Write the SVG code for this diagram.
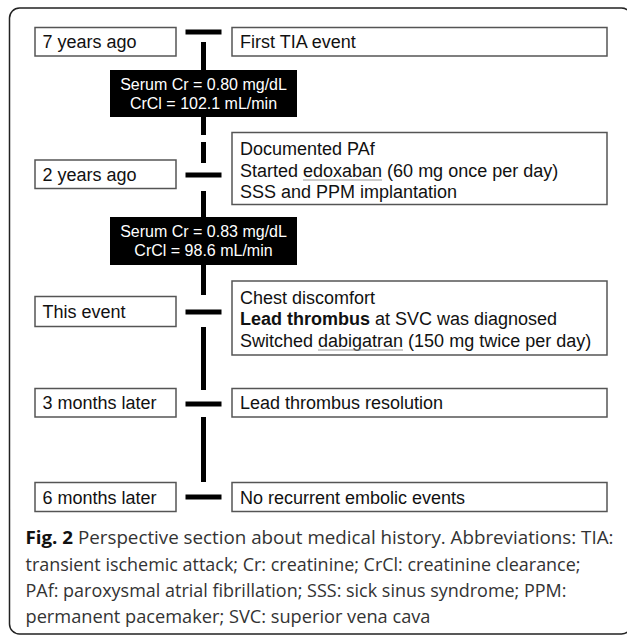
<svg xmlns="http://www.w3.org/2000/svg" width="627" height="637" viewBox="0 0 627 637">
<style>
.box{fill:#fff;stroke:#555;stroke-width:1.5}
.lab{font-family:"Liberation Sans",Arial,sans-serif;font-size:18px;fill:#111}
.blk{fill:#000}
.wt{font-family:"Liberation Sans",Arial,sans-serif;font-size:16px;fill:#fff;text-anchor:middle}
.seg{stroke:#000;stroke-width:5}
.ul{stroke:#999;stroke-width:1.2}
.cap{font-family:"Open Sans","DejaVu Sans",sans-serif;font-size:18.5px;fill:#333}
</style>
<rect width="627" height="637" fill="#fff"/>
<rect x="9.5" y="8" width="622" height="626" rx="10" fill="none" stroke="#222" stroke-width="1.5"/>

<g id="connectors">
  <line class="seg" x1="185.5" y1="32" x2="221.5" y2="32"/>
  <line class="seg" x1="203.5" y1="42" x2="203.5" y2="70"/>
  <line class="seg" x1="203.5" y1="117" x2="203.5" y2="135"/>
  <line class="seg" x1="203.5" y1="142" x2="203.5" y2="163"/>
  <line class="seg" x1="185.5" y1="175" x2="221.5" y2="175"/>
  <line class="seg" x1="203.5" y1="191" x2="203.5" y2="217"/>
  <line class="seg" x1="203.5" y1="265" x2="203.5" y2="295"/>
  <line class="seg" x1="185.5" y1="312" x2="221.5" y2="312"/>
  <line class="seg" x1="203.5" y1="327" x2="203.5" y2="390"/>
  <line class="seg" x1="185.5" y1="404" x2="221.5" y2="404"/>
  <line class="seg" x1="203.5" y1="417" x2="203.5" y2="482"/>
  <line class="seg" x1="185.5" y1="497" x2="221.5" y2="497"/>
</g>

<g id="t7y">
  <rect class="box" x="35" y="27.5" width="141" height="28.5"/>
  <text class="lab" x="42.5" y="48">7 years ago</text>
</g>
<g id="e7y">
  <rect class="box" x="232" y="27.5" width="375" height="28.5"/>
  <text class="lab" x="240" y="48">First TIA event</text>
</g>
<g id="lab1">
  <rect class="blk" x="110" y="70" width="187" height="47"/>
  <text class="wt" x="203.5" y="89.5">Serum Cr = 0.80 mg/dL</text>
  <text class="wt" x="203.5" y="108.5">CrCl = 102.1 mL/min</text>
</g>
<g id="t2y">
  <rect class="box" x="35" y="160" width="141" height="28.5"/>
  <text class="lab" x="42.5" y="180.5">2 years ago</text>
</g>
<g id="e2y">
  <rect class="box" x="232" y="132.5" width="375" height="72"/>
  <text class="lab" x="240" y="155">Documented PAf</text>
  <text class="lab" x="240" y="176.5">Started edoxaban (60 mg once per day)</text>
  <line class="ul" x1="303" y1="180" x2="382" y2="180"/>
  <text class="lab" x="240" y="198">SSS and PPM implantation</text>
</g>
<g id="lab2">
  <rect class="blk" x="110" y="217" width="187" height="48"/>
  <text class="wt" x="203.5" y="237">Serum Cr = 0.83 mg/dL</text>
  <text class="wt" x="203.5" y="256">CrCl = 98.6 mL/min</text>
</g>
<g id="tnow">
  <rect class="box" x="35" y="296.5" width="141" height="30"/>
  <text class="lab" x="42.5" y="318">This event</text>
</g>
<g id="enow">
  <rect class="box" x="232" y="281" width="375" height="74"/>
  <text class="lab" x="240" y="303.5">Chest discomfort</text>
  <text class="lab" x="240" y="325"><tspan font-weight="bold">Lead thrombus</tspan> at SVC was diagnosed</text>
  <text class="lab" x="240" y="346.5">Switched dabigatran (150 mg twice per day)</text>
  <line class="ul" x1="318" y1="350" x2="403" y2="350"/>
</g>
<g id="t3m">
  <rect class="box" x="35" y="388.5" width="141" height="28.5"/>
  <text class="lab" x="42.5" y="409">3 months later</text>
</g>
<g id="e3m">
  <rect class="box" x="232" y="388.5" width="375" height="28.5"/>
  <text class="lab" x="240" y="409">Lead thrombus resolution</text>
</g>
<g id="t6m">
  <rect class="box" x="35" y="482.5" width="141" height="29"/>
  <text class="lab" x="42.5" y="503.5">6 months later</text>
</g>
<g id="e6m">
  <rect class="box" x="232" y="482.5" width="375" height="29"/>
  <text class="lab" x="240" y="503.5">No recurrent embolic events</text>
</g>

<g id="caption">
  <text class="cap" x="25.5" y="544" textLength="588" lengthAdjust="spacingAndGlyphs"><tspan font-weight="bold" fill="#111">Fig. 2</tspan> Perspective section about medical history. Abbreviations: TIA:</text>
  <text class="cap" x="25.5" y="570.5" textLength="555" lengthAdjust="spacingAndGlyphs">transient ischemic attack; Cr: creatinine; CrCl: creatinine clearance;</text>
  <text class="cap" x="25.5" y="597" textLength="541" lengthAdjust="spacingAndGlyphs">PAf: paroxysmal atrial fibrillation; SSS: sick sinus syndrome; PPM:</text>
  <text class="cap" x="25.5" y="623" textLength="405" lengthAdjust="spacingAndGlyphs">permanent pacemaker; SVC: superior vena cava</text>
</g>
</svg>
